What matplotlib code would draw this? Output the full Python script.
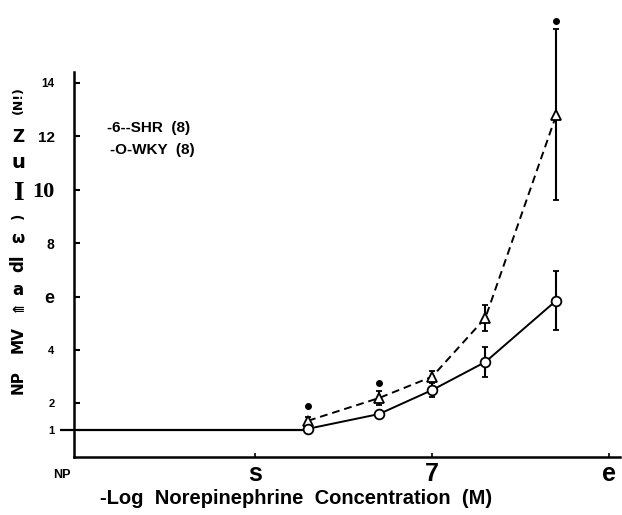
import matplotlib
matplotlib.use("Agg")
import matplotlib.pyplot as plt

# -log [NE] (M); NP = no drug, drawn at the left edge
x_np = 9.0
x_conc = [7.7, 7.3, 7.0, 6.7, 6.3]

shr = [1.35, 2.2, 3.0, 5.2, 12.8]
shr_err = [0.15, 0.25, 0.2, 0.5, 3.2]
wky = [1.05, 1.6, 2.5, 3.55, 5.85]
wky_err = [0.1, 0.1, 0.25, 0.55, 1.1]

# significance marks above SHR points
star_x = [7.7, 7.3, 6.3]
star_y = [1.9, 2.75, 16.3]

yticks = [1, 2, 4, 6, 8, 10, 12, 14]
ytick_labels = ["1", "2", "4", "e", "8", "10", "12", "14"]
xticks = [8, 7, 6]
xtick_labels = ["s", "7", "e"]

plt.rcParams['font.family'] = ['Liberation Sans', 'DejaVu Sans']
plt.rcParams['font.weight'] = 'bold'

fig = plt.figure(figsize=(6.22, 5.15), dpi=100)
ax = fig.add_axes([0.119, 0.113, 0.878, 0.747])

# baseline from NP to first concentration
ax.plot([x_np, x_conc[0]], [1, 1], color='black', lw=1.6, clip_on=False)

ax.errorbar(x_conc, shr, yerr=shr_err, color='black', lw=1.4, ls=(0, (4, 2.5)),
            marker='^', ms=7, mfc='white', mec='black', mew=1.3,
            elinewidth=1.5, capsize=2.5, capthick=1.5, clip_on=False)
ax.errorbar(x_conc, wky, yerr=wky_err, color='black', lw=1.4, ls='-',
            marker='o', ms=7, mfc='white', mec='black', mew=1.3,
            elinewidth=1.5, capsize=2.5, capthick=1.5, clip_on=False)
ax.plot(star_x, star_y, ls='none', marker='o', ms=4, color='black', clip_on=False)

ax.set_xlim(9.02, 5.94)
ax.set_ylim(0, 14.4)

for s in ['top', 'right']:
    ax.spines[s].set_visible(False)
ax.spines['left'].set_linewidth(1.8)
ax.spines['bottom'].set_linewidth(1.8)

ax.set_yticks(yticks)
ax.set_yticklabels(ytick_labels)
ax.tick_params(axis='y', direction='in', length=4, width=1.5, pad=14)
# the "1" line crosses the axis
ax.yaxis.remove_overlapping_locs = False
ax.set_yticks([1], minor=True)
ax.tick_params(axis='y', which='minor', direction='out', length=10, width=1.6)
ax.set_xticks(xticks)
ax.set_xticklabels(xtick_labels)
ax.tick_params(axis='x', direction='in', length=3, width=1.2, pad=4)

ysizes = [8, 8, 8, 13, 10, 16, 11, 8.5]
for lab, sz in zip(ax.get_yticklabels(), ysizes):
    lab.set_fontsize(sz)
    lab.set_fontweight('bold')
ax.get_yticklabels()[5].set_family('Liberation Serif')

for lab in ax.get_xticklabels():
    lab.set_fontsize(18)

fig.text(62 / 622, 1 - 475 / 515, "NP", ha='center', va='center',
         fontsize=9, fontweight='bold')
fig.text(296 / 622, 1 - 498 / 515, "-Log  Norepinephrine  Concentration  (M)",
         ha='center', va='center', fontsize=14.5, fontweight='bold')

# legend as plain text, as in the original
fig.text(107 / 622, 1 - 128 / 515, "-6--SHR  (8)", ha='left', va='center',
         fontsize=11, fontweight='bold')
fig.text(110 / 622, 1 - 150 / 515, "-O-WKY  (8)", ha='left', va='center',
         fontsize=11, fontweight='bold')

# garbled y axis title, piece by piece
ylab = [
    ("(N!)", 100, 90, 'DejaVu Sans', 9),
    ("Z", 137, 0, 'DejaVu Sans', 12),
    ("u", 163, 0, 'DejaVu Sans', 14),
    ("I", 193, 0, 'Liberation Serif', 20),
    (")", 216, 90, 'DejaVu Sans', 10),
    ("ω", 238, 0, 'DejaVu Sans', 11),
    ("dl", 263, 90, 'DejaVu Sans', 12),
    ("a", 290, 0, 'DejaVu Sans', 12),
    ("⇚", 310, 0, 'DejaVu Sans', 11),
    ("MV", 340, 90, 'DejaVu Sans', 11),
    ("NP", 382, 90, 'DejaVu Sans', 11),
]
for txt, ypix, rot, fam, sz in ylab:
    fig.text(18 / 622, 1 - ypix / 515, txt, rotation=rot, ha='center',
             va='center', family=fam, fontsize=sz, fontweight='bold')

fig.savefig("out.png", dpi=100)
